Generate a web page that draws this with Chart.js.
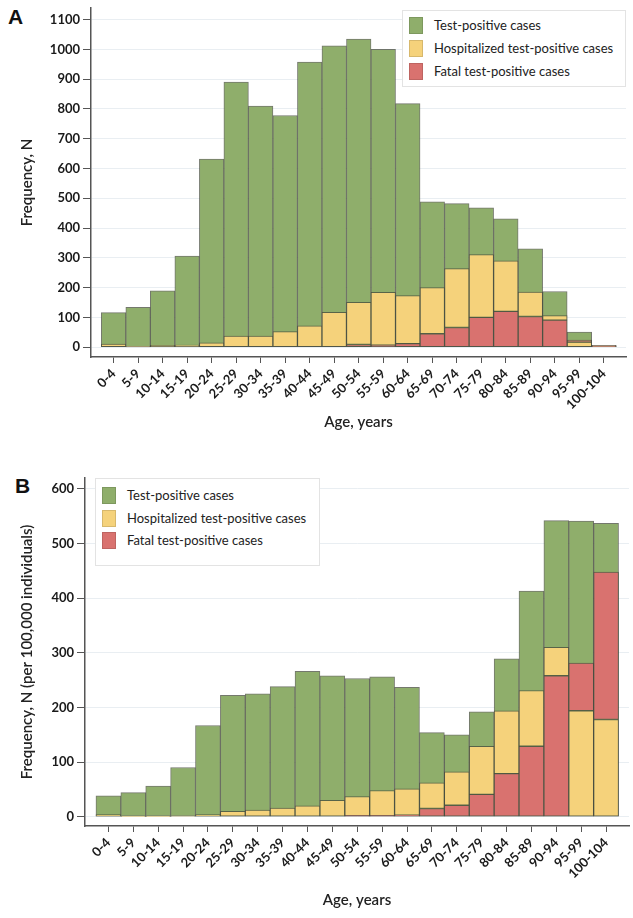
<!DOCTYPE html>
<html>
<head>
<meta charset="utf-8">
<script src="https://cdn.jsdelivr.net/npm/chart.js@4.4.1/dist/chart.umd.min.js"></script>
<style>
  body { margin: 0; background: #fff; width: 633px; height: 918px; position: relative; overflow: hidden; font-family: Lato, "Open Sans", sans-serif; }
  canvas { position: absolute; left: 0; }
  #chartA { top: 0; }
  #chartB { top: 460px; }
  .tag { position: absolute; font: bold 21px "Liberation Sans", Arial, sans-serif; color: #111; }
  .legend { position: absolute; background: #fff; border: 1px solid #e3e3e3; box-sizing: border-box; }
  .legend .row { position: absolute; left: 6px; height: 17px; white-space: nowrap; }
  .legend .sw { position: absolute; left: 0; top: 0; width: 14px; height: 17px; box-sizing: border-box; border: 1px solid rgba(0,0,0,0.12); }
  .legend .txt { position: absolute; left: 25px; top: 0; line-height: 17px; font-size: 13px; color: #222; }
</style>
</head>
<body>
<div class="tag" style="left:8px;top:5px;">A</div>
<div class="tag" style="left:15px;top:474px;">B</div>
<canvas id="chartA" width="633" height="445"></canvas>
<canvas id="chartB" width="633" height="458"></canvas>
<div class="legend" id="legendA" style="left:402px;top:10px;width:224px;height:77px;"></div>
<div class="legend" id="legendB" style="left:95px;top:478px;width:225px;height:88px;"></div>
<script>
const ageGroups = ['0-4', '5-9', '10-14', '15-19', '20-24', '25-29', '30-34', '35-39', '40-44', '45-49',
  '50-54', '55-59', '60-64', '65-69', '70-74', '75-79', '80-84', '85-89', '90-94', '95-99', '100-104'];
const seriesNames = ['Test-positive cases', 'Hospitalized test-positive cases', 'Fatal test-positive cases'];
const seriesColors = ['#8fae6b', '#f5d27b', '#d9726f'];

// panel A: counts
const yTicksA = [0, 100, 200, 300, 400, 500, 600, 700, 800, 900, 1000, 1100];
const casesA = [116, 134, 189, 306, 632, 890, 810, 778, 957, 1012, 1035, 1000, 818, 488, 482, 468, 431, 330, 187, 51, 6];
const hospA = [10, 1, 6, 7, 15, 37, 37, 52, 72, 117, 151, 184, 173, 200, 264, 311, 290, 185, 106, 17, 2];
const fatalA = [0, 0, 0, 0, 0, 0, 0, 0, 0, 0, 9, 7, 12, 45, 66, 100, 120, 103, 91, 24, 5];

// panel B: per 100,000
const yTicksB = [0, 100, 200, 300, 400, 500, 600];
const casesB = [38, 44, 56, 90, 167, 222, 225, 238, 266, 258, 253, 256, 237, 154, 150, 192, 289, 413, 542, 541, 537];
const hospB = [4, 0.5, 0.5, 1, 4, 10, 12, 16, 20, 30, 37, 48, 51, 62, 82, 129, 194, 231, 310, 194, 178];
const fatalB = [0, 0, 0, 0, 0, 0, 0, 0, 0, 0, 2, 2, 3, 15, 21, 41, 79, 129, 258, 281, 448];

const fontFam = 'Lato, "Open Sans", sans-serif';
const axisColor = '#555';
const edgeColor = 'rgba(70,75,60,0.75)';

// the smaller of two overlapping series sits in front, so split them into segments
function layered(vals, other) {
  return vals.map((v, i) => ({ x: i, y: v <= other[i] ? [0, v] : [other[i], v] }));
}

function buildLegend(id, rowTop, rowGap) {
  const box = document.getElementById(id);
  seriesNames.forEach((name, i) => {
    const row = document.createElement('div');
    row.className = 'row';
    row.style.top = (rowTop + i * rowGap) + 'px';
    row.innerHTML = '<div class="sw" style="background:' + seriesColors[i] + '"></div><div class="txt">' + name + '</div>';
    box.appendChild(row);
  });
}

function makeChart(id, totals, hosp, fatal, yTicks, cfg) {
  const ctx = document.getElementById(id).getContext('2d');
  return new Chart(ctx, {
    type: 'bar',
    data: {
      datasets: [
        { label: seriesNames[2], data: layered(fatal, hosp), backgroundColor: seriesColors[2], borderColor: edgeColor, order: 1 },
        { label: seriesNames[1], data: layered(hosp, fatal), backgroundColor: seriesColors[1], borderColor: edgeColor, order: 2 },
        { label: seriesNames[0], data: totals.map((v, i) => ({ x: i, y: v })), backgroundColor: seriesColors[0], borderColor: edgeColor, order: 3 }
      ]
    },
    options: {
      responsive: false,
      animation: false,
      devicePixelRatio: 1,
      layout: { padding: { top: cfg.padTop, right: cfg.padRight, bottom: 0, left: 0 } },
      plugins: { legend: { display: false }, tooltip: { enabled: false } },
      datasets: { bar: { grouped: false, barPercentage: 1, categoryPercentage: 1, borderWidth: 1, borderSkipped: false } },
      scales: {
        x: {
          type: 'linear',
          min: cfg.xMin,
          max: cfg.xMax,
          offset: false,
          afterBuildTicks: s => { s.ticks = ageGroups.map((g, i) => ({ value: i })); },
          afterFit: s => { s.height = cfg.xHeight; s.paddingLeft = 0; s.paddingRight = 0; },
          grid: { drawOnChartArea: false, tickLength: 6, tickColor: axisColor, offset: false },
          border: { color: axisColor, width: 1.5 },
          ticks: {
            autoSkip: false, minRotation: 45, maxRotation: 45, padding: 3, color: '#1a1a1a',
            font: { family: fontFam, size: 13, weight: 'bold' },
            callback: v => ageGroups[v]
          },
          title: { display: true, text: 'Age, years', color: '#222', font: { family: fontFam, size: 15, weight: '600' }, padding: { top: 0, bottom: cfg.xTitlePad } }
        },
        y: {
          min: cfg.yMin,
          max: cfg.yMax,
          afterBuildTicks: s => { s.ticks = yTicks.map(v => ({ value: v })); },
          afterFit: s => { s.width = cfg.yWidth; s.paddingTop = 0; s.paddingBottom = 0; },
          grid: { color: '#e9eef2', tickColor: axisColor, tickLength: 8 },
          border: { color: axisColor, width: 1.5 },
          ticks: { padding: 3, color: '#1a1a1a', font: { family: fontFam, size: 13, weight: 'bold' }, callback: v => String(v) },
          title: { display: true, text: cfg.yTitle, color: '#222', font: { family: fontFam, size: 15, weight: '600' }, padding: { top: 18, bottom: 0 } }
        }
      }
    }
  });
}

makeChart('chartA', casesA, hospA, fatalA, yTicksA, {
  padTop: 8, padRight: 7, xMin: -0.92, xMax: 20.9, yMin: -33, yMax: 1139,
  xHeight: 88, yWidth: 91, xTitlePad: 14, yTitle: 'Frequency, N'
});
makeChart('chartB', casesB, hospB, fatalB, yTicksB, {
  padTop: 18, padRight: 4, xMin: -0.94, xMax: 20.92, yMin: -17, yMax: 620,
  xHeight: 92, yWidth: 85, xTitlePad: 9, yTitle: 'Frequency, N (per 100,000 individuals)'
});

buildLegend('legendA', 6, 23);
buildLegend('legendB', 8, 22.5);
</script>
</body>
</html>
